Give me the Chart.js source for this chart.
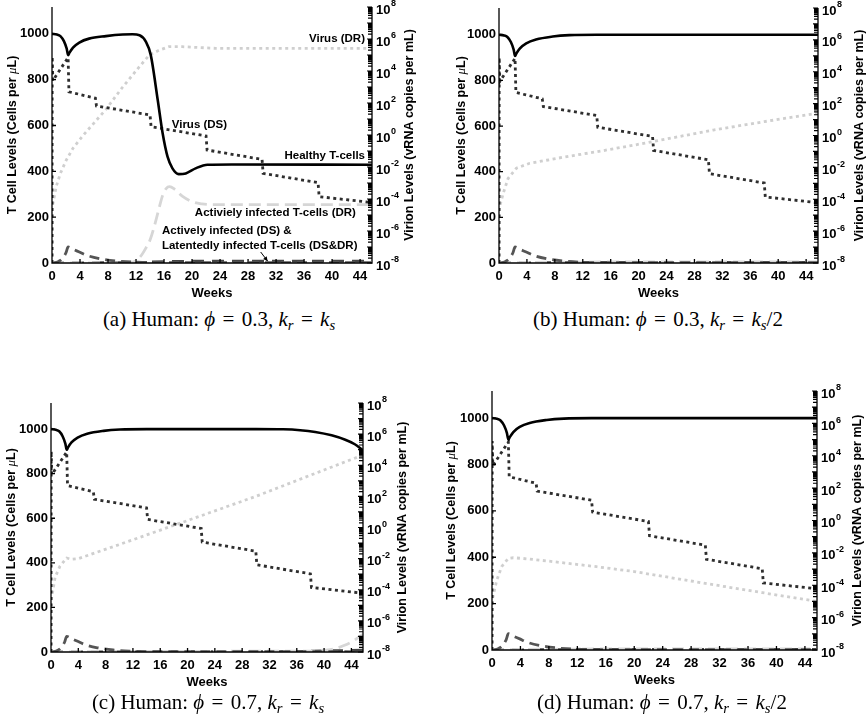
<!DOCTYPE html>
<html lang="en">
<head>
  <meta charset="UTF-8" />
  <title>T cell and virion levels</title>
  <script src="https://cdn.jsdelivr.net/npm/chart.js"></script>
  <style>
    body {
      margin: 0;
      background: #fff;
      width: 867px;
      height: 726px;
      position: relative;
      overflow: hidden;
    }
    canvas {
      position: absolute;
    }
    .caption {
      position: absolute;
      font-family: "Liberation Serif", "Times New Roman", serif;
      font-size: 21px;
      line-height: 1;
      white-space: nowrap;
      transform: translate(-50%, -50%);
    }
    .caption sub {
      font-size: 0.7em;
      vertical-align: -0.28em;
    }
    .caption .sp {
      display: inline-block;
      width: 0.1em;
    }
  </style>
</head>
<body>
  <canvas id="chartA" width="433" height="300" style="left:0;top:0"></canvas>
  <canvas id="chartB" width="434" height="300" style="left:433px;top:0"></canvas>
  <canvas id="chartC" width="433" height="330" style="left:0;top:370px"></canvas>
  <canvas id="chartD" width="434" height="330" style="left:433px;top:370px"></canvas>

  <div class="caption" style="left:219px;top:321px">(a) Human: <i>ϕ</i><span class="sp"></span> = <span class="sp"></span>0.3, <i>k<sub>r</sub></i><span class="sp"></span> = <span class="sp"></span><i>k<sub>s</sub></i></div>
  <div class="caption" style="left:658px;top:321px">(b) Human: <i>ϕ</i><span class="sp"></span> = <span class="sp"></span>0.3, <i>k<sub>r</sub></i><span class="sp"></span> = <span class="sp"></span><i>k<sub>s</sub></i>/2</div>
  <div class="caption" style="left:208px;top:704px">(c) Human: <i>ϕ</i><span class="sp"></span> = <span class="sp"></span>0.7, <i>k<sub>r</sub></i><span class="sp"></span> = <span class="sp"></span><i>k<sub>s</sub></i></div>
  <div class="caption" style="left:662px;top:704px">(d) Human: <i>ϕ</i><span class="sp"></span> = <span class="sp"></span>0.7, <i>k<sub>r</sub></i><span class="sp"></span> = <span class="sp"></span><i>k<sub>s</sub></i>/2</div>

  <script>
    // axis ranges and tick labels
    const WEEK_MAX = 45.7;
    const TCELL_MAX = 1117;
    const VIRION_MIN = 1e-8;
    const VIRION_MAX = 1e8;
    const weekTickStep = 4;
    const tcellTickStep = 200;
    const virionTickExps = [-8, -6, -4, -2, 0, 2, 4, 6, 8];

    // [week, cells per uL]
    const healthyA = [[0,1000],[0.7,997],[1.2,990],[1.7,968],[2.1,935],[2.3,907],[2.5,918],[3,940],[3.9,962],[5.3,979],[7.7,990],[10.1,997],[11.5,998],[12.5,994],[13.4,966],[14.1,908],[15.1,711],[15.8,566],[16.5,464],[17.2,413],[18.1,388],[19.1,391],[20.5,413],[22.2,429],[25.7,430],[45.7,429]];
    const healthyB = [[0,1000],[0.7,997],[1.2,990],[1.7,968],[2.1,935],[2.3,907],[2.5,918],[3,940],[3.9,962],[5.3,979],[7.7,992],[10.1,998],[14,1000],[45.7,1000]];
    const healthyC = [[0,1000],[0.7,997],[1.2,990],[1.7,968],[2.1,935],[2.3,907],[2.5,918],[3,940],[3.9,962],[5.3,979],[7.7,992],[10.1,998],[14,1000],[30,1000],[34,999],[36.5,995],[38.7,987],[41.1,972],[43.1,952],[44.5,932],[45.7,905]];
    const healthyD = [[0,1000],[0.7,997],[1.2,990],[1.7,968],[2.1,935],[2.3,907],[2.5,918],[3,940],[3.9,962],[5.3,979],[7.7,992],[10.1,998],[14,1000],[45.7,1000]];

    const activeDS = [[0,0],[0.5,2],[1,8],[1.5,20],[2,45],[2.3,70],[3,60],[3.9,48],[5,33],[6.8,19],[9.1,9],[11.5,4],[14,2],[45.7,1]];

    const activeDR_A = [[0,0],[10,1],[11,2],[12,10],[12.8,35],[13.4,65],[14,100],[14.7,170],[15.3,240],[15.8,295],[16.3,325],[16.8,333],[17.5,322],[18.6,292],[20,268],[21.4,258],[22.5,255],[45.7,255]];
    const activeDR_B = [[0,0],[3,2],[10,4],[45.7,5]];
    const activeDR_C = [[0,0],[10,3],[38,4],[40,8],[41.5,14],[43,30],[44.3,50],[45.7,80]];
    const activeDR_D = [[0,0],[3,2],[10,4],[45.7,5]];

    const latentA = [[0,0],[12,2],[16,6],[20,8],[45.7,8]];
    const latentB = [[0,0],[10,2],[45.7,3]];
    const latentC = [[0,0],[36,2],[40,5],[45.7,8]];
    const latentD = [[0,0],[10,2],[45.7,3]];

    // [week, vRNA copies per mL]
    const virusDS = [[0,1e-8],[0.03,8e4],[0.12,2.5e3],[2.3,7e4],[2.42,5e2],[6.2,2e2],[6.35,65],[14.0,18],[14.15,3.3],[22.0,0.87],[22.15,0.115],[30.0,0.03],[30.15,4e-3],[38.0,1.05e-3],[38.15,1.4e-4],[45.7,6e-5]];

    const virusDR_A = [[0,1e-8],[0.03,3e-5],[0.6,6e-4],[1.2,4e-3],[2.0,2.5e-2],[3.0,0.15],[4.4,0.9],[5.8,4.5],[7.7,40],[10.1,1e3],[12.5,1.9e4],[13.9,1e5],[15.3,2e5],[16.7,3.3e5],[18.6,3.3e5],[23.4,2.6e5],[45.7,2.6e5]];
    const virusDR_B = [[0,1e-8],[0.05,3e-5],[0.6,2.3e-4],[1.3,2e-3],[2.5,9e-3],[4.4,1.8e-2],[6.8,2.8e-2],[10,5e-2],[14,9.5e-2],[20.7,0.32],[30.7,2.2],[38,7.4],[45.7,25]];
    const virusDR_C = [[0,1e-8],[0.03,2e-5],[0.6,6.3e-4],[1.3,3.2e-3],[2.3,1.1e-2],[3,9e-3],[4,1e-2],[10,8e-2],[20,2.8],[30,100],[40,5e3],[45.7,4.5e4]];
    const virusDR_D = [[0,1e-8],[0.05,1.3e-5],[0.66,2e-4],[1.36,1.4e-3],[2.3,4.6e-3],[3,5e-3],[4.4,4.5e-3],[7.7,3.2e-3],[14.7,1.4e-3],[20,7e-4],[30,1.3e-4],[38,3.5e-5],[45.7,1e-5]];

    const tickFont = { family: "'Liberation Sans', Arial, sans-serif", size: 13, weight: "bold" };
    const BOLD = "'Liberation Sans', Arial, sans-serif";

    const pts = arr => arr.map(([x, y]) => ({ x, y }));

    function series(healthy, activeDR, latent, virusDR) {
      return [
        { data: pts(healthy), borderColor: "#000", borderWidth: 2.6, cubicInterpolationMode: "monotone", yAxisID: "y" },
        { data: pts(virusDS), borderColor: "#2e2e2e", borderWidth: 2.8, borderDash: [3, 3.5], yAxisID: "y2" },
        { data: pts(virusDR), borderColor: "#cfcfcf", borderWidth: 2.8, borderDash: [3, 3.5], yAxisID: "y2" },
        { data: pts(activeDS), borderColor: "#555", borderWidth: 2.8, borderDash: [10, 6], cubicInterpolationMode: "monotone", yAxisID: "y" },
        { data: pts(activeDR), borderColor: "#d6d6d6", borderWidth: 2.8, borderDash: [12, 6], cubicInterpolationMode: "monotone", yAxisID: "y" },
        { data: pts(latent), borderColor: "#444", borderWidth: 2.8, borderDash: [12, 8], yAxisID: "y" }
      ];
    }

    function drawRotated(ctx, parts, cx, cy) {
      ctx.save();
      ctx.translate(cx, cy);
      ctx.rotate(-Math.PI / 2);
      ctx.textBaseline = "middle";
      ctx.textAlign = "left";
      let total = 0;
      parts.forEach(p => { ctx.font = p.font; total += ctx.measureText(p.text).width; });
      let x = -total / 2;
      parts.forEach(p => { ctx.font = p.font; ctx.fillText(p.text, x, 0); x += ctx.measureText(p.text).width; });
      ctx.restore();
    }

    const frame = {
      id: "frame",
      afterDatasetsDraw(chart, args, opts) {
        const { ctx, chartArea: a, scales } = chart;
        ctx.save();
        ctx.strokeStyle = "#000";
        ctx.fillStyle = "#000";
        ctx.lineWidth = 1.3;
        ctx.beginPath();
        ctx.moveTo(a.left, a.top);
        ctx.lineTo(a.left, a.bottom);
        ctx.lineTo(a.right, a.bottom);
        ctx.lineTo(a.right, a.top);
        scales.x.ticks.forEach(t => {
          const px = scales.x.getPixelForValue(t.value);
          ctx.moveTo(px, a.bottom);
          ctx.lineTo(px, a.bottom - 4);
        });
        scales.y.ticks.forEach(t => {
          const py = scales.y.getPixelForValue(t.value);
          ctx.moveTo(a.left, py);
          ctx.lineTo(a.left + 4, py);
        });
        ctx.stroke();

        // log axis: decade + minor ticks pointing in
        ctx.lineWidth = 1.2;
        ctx.beginPath();
        for (let e = -8; e <= 8; e++) {
          for (let m = 1; m < 10; m++) {
            const v = m * Math.pow(10, e);
            if (v > VIRION_MAX) break;
            const py = scales.y2.getPixelForValue(v);
            ctx.moveTo(a.right, py);
            ctx.lineTo(a.right - (m === 1 ? 5 : 4), py);
          }
        }
        ctx.stroke();

        // log tick labels with superscripts
        ctx.textBaseline = "middle";
        ctx.textAlign = "left";
        virionTickExps.forEach(e => {
          const py = scales.y2.getPixelForValue(Math.pow(10, e));
          ctx.font = `bold 13px ${BOLD}`;
          ctx.fillText("10", a.right + 4, py + 3);
          const w = ctx.measureText("10").width;
          ctx.font = `bold 9px ${BOLD}`;
          ctx.fillText(String(e), a.right + 4 + w + 0.5, py - 3);
        });

        // axis titles
        const midY = (a.top + a.bottom) / 2;
        const tf = `bold 12.5px ${BOLD}`;
        drawRotated(ctx, [
          { text: "T Cell Levels (Cells per ", font: tf },
          { text: "μ", font: `italic 13px 'Liberation Serif', serif` },
          { text: "L)", font: tf }
        ], a.left - opts.leftTitle, midY);
        drawRotated(ctx, [{ text: "Virion Levels (vRNA copies per mL)", font: tf }], a.right + opts.rightTitle, midY);
        ctx.font = `bold 13px ${BOLD}`;
        ctx.textAlign = "center";
        ctx.fillText("Weeks", (a.left + a.right) / 2, a.bottom + 30);

        // curve labels
        (opts.notes || []).forEach(n => {
          ctx.font = `bold 11.5px ${BOLD}`;
          ctx.textAlign = n.align;
          ctx.fillText(n.text, scales.x.getPixelForValue(n.x), scales.y.getPixelForValue(n.y));
        });
        if (opts.arrow) {
          const [x0, y0, x1, y1] = opts.arrow;
          const p0 = [scales.x.getPixelForValue(x0), scales.y.getPixelForValue(y0)];
          const p1 = [scales.x.getPixelForValue(x1), scales.y.getPixelForValue(y1)];
          const ang = Math.atan2(p1[1] - p0[1], p1[0] - p0[0]);
          ctx.lineWidth = 1;
          ctx.beginPath();
          ctx.moveTo(p0[0], p0[1]);
          ctx.lineTo(p1[0], p1[1]);
          ctx.stroke();
          ctx.beginPath();
          ctx.moveTo(p1[0], p1[1]);
          ctx.lineTo(p1[0] - 5 * Math.cos(ang - 0.45), p1[1] - 5 * Math.sin(ang - 0.45));
          ctx.lineTo(p1[0] - 5 * Math.cos(ang + 0.45), p1[1] - 5 * Math.sin(ang + 0.45));
          ctx.closePath();
          ctx.fill();
        }
        ctx.restore();
      }
    };

    function makePanel(id, g, datasets, extra) {
      const cv = document.getElementById(id);
      const W = cv.width, H = cv.height;
      return new Chart(cv, {
        type: "line",
        data: { datasets },
        plugins: [frame],
        options: {
          responsive: false,
          animation: false,
          devicePixelRatio: 1,
          layout: { padding: { top: g.top, left: 0, right: 0, bottom: 0 } },
          elements: { point: { radius: 0 }, line: { fill: false, borderCapStyle: "butt" } },
          plugins: {
            legend: { display: false },
            tooltip: { enabled: false },
            frame: Object.assign({ leftTitle: g.leftTitle, rightTitle: g.rightTitle }, extra)
          },
          scales: {
            x: {
              type: "linear", min: 0, max: WEEK_MAX,
              afterFit: s => { s.height = H - g.bottom; s.paddingLeft = 0; s.paddingRight = 0; },
              grid: { display: false, drawTicks: false },
              border: { display: false },
              ticks: { stepSize: weekTickStep, includeBounds: false, autoSkip: false, maxRotation: 0, padding: 6, color: "#000", font: tickFont, callback: v => String(v) }
            },
            y: {
              type: "linear", position: "left", min: 0, max: TCELL_MAX,
              afterFit: s => { s.width = g.left; s.paddingTop = 0; s.paddingBottom = 0; },
              grid: { display: false, drawTicks: false },
              border: { display: false },
              ticks: { stepSize: tcellTickStep, includeBounds: false, padding: 3, color: "#000", font: tickFont, callback: v => String(v) }
            },
            y2: {
              type: "logarithmic", position: "right", min: VIRION_MIN, max: VIRION_MAX,
              afterFit: s => { s.width = W - g.right; s.paddingTop = 0; s.paddingBottom = 0; },
              grid: { display: false, drawTicks: false },
              border: { display: false },
              ticks: { display: false }
            }
          }
        }
      });
    }

    makePanel("chartA", { left: 52, right: 372, top: 7, bottom: 263, leftTitle: 39, rightTitle: 38 },
      series(healthyA, activeDR_A, latentA, virusDR_A), {
        notes: [
          { text: "Virus (DR)", x: 44.7, y: 978, align: "right" },
          { text: "Virus (DS)", x: 17.1, y: 603, align: "left" },
          { text: "Healthy T-cells", x: 44.7, y: 467, align: "right" },
          { text: "Activiely infected T-cells (DR)", x: 43.4, y: 218, align: "right" },
          { text: "Actively infected (DS) &", x: 15.7, y: 140, align: "left" },
          { text: "Latentedly infected T-cells (DS&DR)", x: 15.7, y: 74, align: "left" }
        ],
        arrow: [29.8, 48, 30.8, 8]
      });
    makePanel("chartB", { left: 66, right: 385, top: 8, bottom: 263, leftTitle: 37, rightTitle: 42 },
      series(healthyB, activeDR_B, latentB, virusDR_B), {});
    makePanel("chartC", { left: 51, right: 363, top: 33, bottom: 282, leftTitle: 39, rightTitle: 40 },
      series(healthyC, activeDR_C, latentC, virusDR_C), {});
    makePanel("chartD", { left: 59, right: 384, top: 21, bottom: 280, leftTitle: 40, rightTitle: 41 },
      series(healthyD, activeDR_D, latentD, virusDR_D), {});
  </script>
</body>
</html>
